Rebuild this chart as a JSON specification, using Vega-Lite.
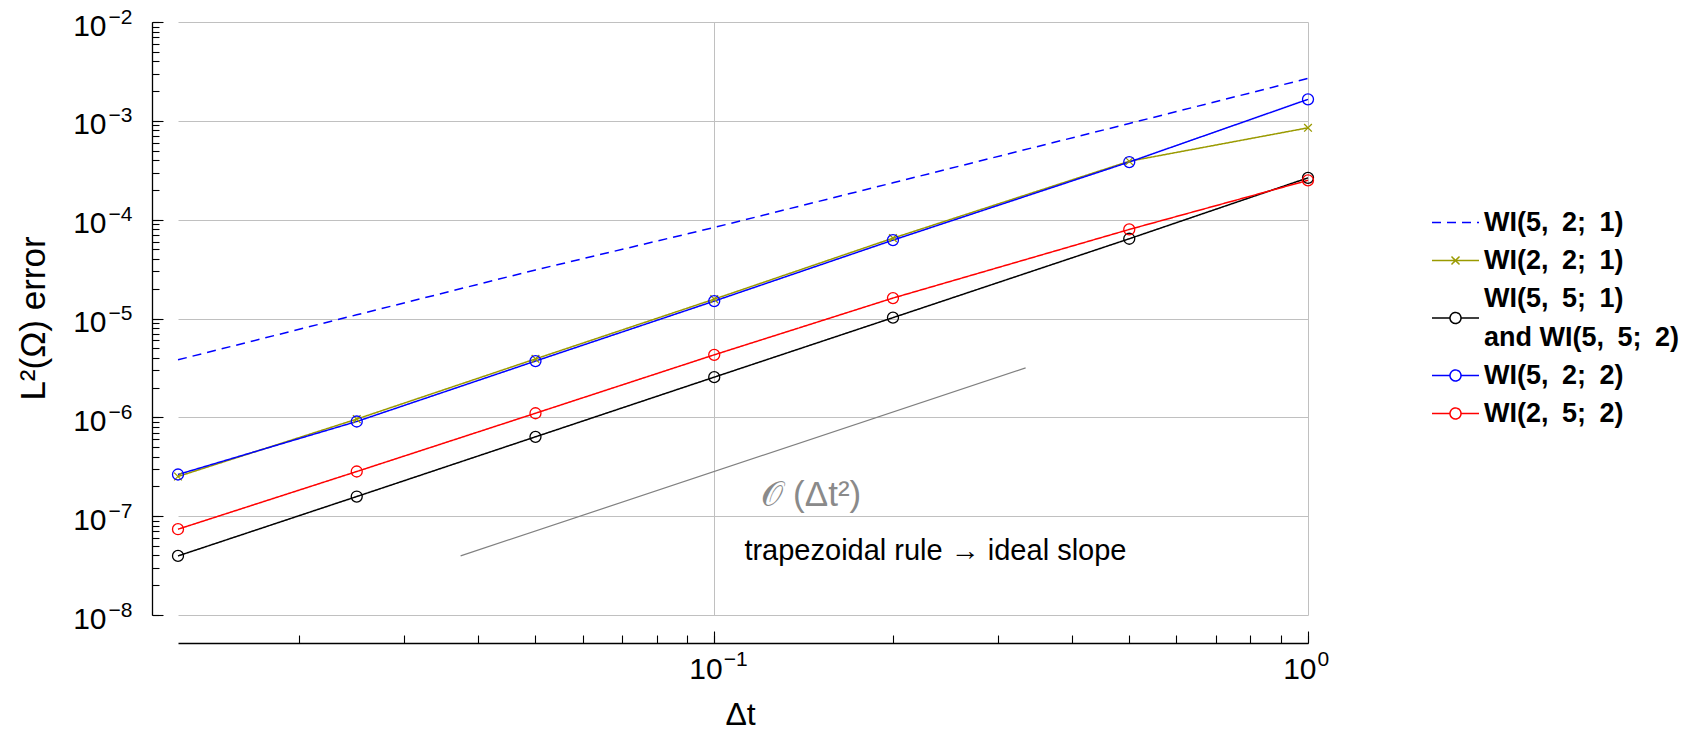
{
  "$schema": "https://vega.github.io/schema/vega-lite/v6.json",
  "width": 1130,
  "height": 593,
  "autosize": {"type": "none"},
  "padding": {"left": 178, "top": 22, "right": 381, "bottom": 116},
  "background": "white",
  "config": {"view": {"stroke": null}, "font": "Liberation Sans"},
  "resolve": {"axis": {"x": "independent", "y": "independent"}},
  "datasets": {
    "errors": [
      {"series": "WI(5,2;1)", "dt": 0.0125, "err": 3.82e-6},
      {"series": "WI(5,2;1)", "dt": 0.025, "err": 1.09e-5},
      {"series": "WI(5,2;1)", "dt": 0.05, "err": 3.1e-5},
      {"series": "WI(5,2;1)", "dt": 0.1, "err": 8.34e-5},
      {"series": "WI(5,2;1)", "dt": 0.2, "err": 2.36e-4},
      {"series": "WI(5,2;1)", "dt": 0.5, "err": 9.4e-4},
      {"series": "WI(5,2;1)", "dt": 1, "err": 2.69e-3},
      {"series": "WI(2,2;1)", "dt": 0.0125, "err": 2.52e-7},
      {"series": "WI(2,2;1)", "dt": 0.025, "err": 9.6e-7},
      {"series": "WI(2,2;1)", "dt": 0.05, "err": 3.9e-6},
      {"series": "WI(2,2;1)", "dt": 0.1, "err": 1.57e-5},
      {"series": "WI(2,2;1)", "dt": 0.2, "err": 6.5e-5},
      {"series": "WI(2,2;1)", "dt": 0.5, "err": 3.9e-4},
      {"series": "WI(2,2;1)", "dt": 1, "err": 8.5e-4},
      {"series": "WI(5,5;1)", "dt": 0.0125, "err": 3.96e-8},
      {"series": "WI(5,5;1)", "dt": 0.025, "err": 1.58e-7},
      {"series": "WI(5,5;1)", "dt": 0.05, "err": 6.35e-7},
      {"series": "WI(5,5;1)", "dt": 0.1, "err": 2.55e-6},
      {"series": "WI(5,5;1)", "dt": 0.2, "err": 1.02e-5},
      {"series": "WI(5,5;1)", "dt": 0.5, "err": 6.41e-5},
      {"series": "WI(5,5;1)", "dt": 1, "err": 2.65e-4},
      {"series": "WI(5,2;2)", "dt": 0.0125, "err": 2.64e-7},
      {"series": "WI(5,2;2)", "dt": 0.025, "err": 9.08e-7},
      {"series": "WI(5,2;2)", "dt": 0.05, "err": 3.71e-6},
      {"series": "WI(5,2;2)", "dt": 0.1, "err": 1.5e-5},
      {"series": "WI(5,2;2)", "dt": 0.2, "err": 6.21e-5},
      {"series": "WI(5,2;2)", "dt": 0.5, "err": 3.83e-4},
      {"series": "WI(5,2;2)", "dt": 1, "err": 1.65e-3},
      {"series": "WI(2,5;2)", "dt": 0.0125, "err": 7.38e-8},
      {"series": "WI(2,5;2)", "dt": 0.025, "err": 2.83e-7},
      {"series": "WI(2,5;2)", "dt": 0.05, "err": 1.1e-6},
      {"series": "WI(2,5;2)", "dt": 0.1, "err": 4.29e-6},
      {"series": "WI(2,5;2)", "dt": 0.2, "err": 1.61e-5},
      {"series": "WI(2,5;2)", "dt": 0.5, "err": 7.96e-5},
      {"series": "WI(2,5;2)", "dt": 1, "err": 2.5e-4}
    ],
    "slope": [
      {"dt": 0.0374, "err": 3.96e-8},
      {"dt": 0.3345, "err": 3.17e-6}
    ],
    "notes": [
      {"kind": "order", "dt": 0.1457, "err": 1.64e-7, "label": "𝒪 (Δt²)"},
      {"kind": "rule", "dt": 0.2358, "err": 4.45e-8, "label": "trapezoidal rule → ideal slope"}
    ]
  },
  "layer": [
    {
      "data": {"name": "errors"},
      "mark": {"type": "line", "strokeWidth": 1.5},
      "encoding": {
        "x": {
          "field": "dt", "type": "quantitative",
          "scale": {"type": "log", "domain": [0.0125, 1], "nice": false, "zero": false},
          "axis": {
            "orient": "bottom",
            "title": "Δt", "titleFont": "Liberation Sans", "titleFontSize": 32, "titleFontWeight": "normal", "titleColor": "black",
            "titleX": 562, "titleY": 81, "titleAlign": "center", "titleBaseline": "alphabetic", "titleAngle": 0,
            "values": [0.1, 1],
            "offset": 28, "ticks": true, "tickSize": -12, "domainColor": "black", "domainWidth": 1.3, "tickColor": "black", "tickWidth": 1.1,
            "labelExpr": "'10'",
            "labelFont": "Liberation Sans", "labelFontSize": 30, "labelColor": "black", "labelPadding": 47, "labelBaseline": "alphabetic", "labelAlign": "right", "labelOffset": 8,
            "labelOverlap": false, "labelFlush": false, "labelBound": false,
            "grid": true, "gridColor": "#c0c0c0", "gridWidth": 1
          }
        },
        "y": {
          "field": "err", "type": "quantitative",
          "scale": {"type": "log", "domain": [1e-8, 1e-2], "nice": false, "zero": false},
          "axis": {
            "orient": "left",
            "title": "L²(Ω) error", "titleFont": "Liberation Sans", "titleFontSize": 35, "titleFontWeight": "normal", "titleColor": "black",
            "titleX": -119, "titleY": 296, "titleAlign": "center", "titleBaseline": "middle", "titleAngle": 270,
            "values": [1e-8, 1e-7, 1e-6, 1e-5, 1e-4, 1e-3, 1e-2],
            "offset": 26, "ticks": true, "tickSize": -11, "domainColor": "black", "domainWidth": 1.3, "tickColor": "black", "tickWidth": 1.1,
            "labelExpr": "'10'",
            "labelFont": "Liberation Sans", "labelFontSize": 30, "labelColor": "black", "labelPadding": 57, "labelBaseline": "alphabetic", "labelAlign": "right", "labelOffset": 13,
            "labelOverlap": false, "labelFlush": false, "labelBound": false,
            "grid": true, "gridColor": "#c0c0c0", "gridWidth": 1
          }
        },
        "color": {
          "field": "series", "type": "nominal",
          "scale": {"domain": ["WI(5,2;1)", "WI(2,2;1)", "WI(5,5;1)", "WI(5,2;2)", "WI(2,5;2)"], "range": ["#0000ff", "#9a9a00", "#000000", "#0000ff", "#ff0000"]},
          "legend": {
            "orient": "none", "legendX": 1240, "legendY": 187, "direction": "vertical", "title": null, "padding": 0,
            "symbolSize": 400, "symbolStrokeWidth": 1.5, "symbolOffset": 24,
            "labelFont": "Liberation Sans", "labelFontSize": 27, "labelFontWeight": "bold", "labelColor": "black", "labelOffset": 15, "labelLimit": 400,
            "rowPadding": 10,
            "labelExpr": "datum.value == 'WI(5,5;1)' ? ['WI(5,\u20025;\u20021)', 'and WI(5,\u20025;\u20022)'] : replace(replace(datum.value, ',', ',\u2002'), ';', ';\u2002')",
            "encode": {
              "symbols": {"update": {
                "shape": {"signal": "datum.value == 'WI(5,2;1)' ? 'M-2.35,0L2.35,0' : datum.value == 'WI(2,2;1)' ? 'M-2.35,0L2.35,0M-0.4,-0.4L0.4,0.4M-0.4,0.4L0.4,-0.4' : datum.value == 'WI(5,5;1)' ? 'M-2.35,1.95L-0.55,1.95M0.55,1.95A0.55,0.55 0 1,1 -0.55,1.95A0.55,0.55 0 1,1 0.55,1.95M0.55,1.95L2.35,1.95' : 'M-2.35,0L-0.55,0M0.55,0A0.55,0.55 0 1,1 -0.55,0A0.55,0.55 0 1,1 0.55,0M0.55,0L2.35,0'"},
                "strokeDash": {"signal": "datum.value == 'WI(5,2;1)' ? [8, 6] : []"},
                "fill": {"value": "transparent"}
              }},
              "labels": {"update": {"lineHeight": {"value": 39}}}
            }
          }
        },
        "strokeDash": {
          "field": "series", "type": "nominal",
          "scale": {"domain": ["WI(5,2;1)", "WI(2,2;1)", "WI(5,5;1)", "WI(5,2;2)", "WI(2,5;2)"], "range": [[9, 6], [1, 0], [1, 0], [1, 0], [1, 0]]},
          "legend": null
        }
      }
    },
    {
      "data": {"name": "errors"},
      "transform": [{"filter": "datum.series != 'WI(5,2;1)'"}],
      "mark": {"type": "point", "filled": false, "size": 121, "strokeWidth": 1.3, "opacity": 1},
      "encoding": {
        "x": {
          "field": "dt", "type": "quantitative",
          "axis": {
            "orient": "bottom", "title": null, "domain": false, "grid": false,
            "values": [0.02, 0.03, 0.04, 0.05, 0.06, 0.07, 0.08, 0.09, 0.1, 0.2, 0.3, 0.4, 0.5, 0.6, 0.7, 0.8, 0.9, 1],
            "offset": 28, "ticks": true, "tickSize": -8, "tickColor": "black", "tickWidth": 1.1,
            "labelExpr": "abs(log(datum.value)/LN10 - round(log(datum.value)/LN10)) < 0.001 ? (round(log(datum.value)/LN10) < 0 ? '−' : '') + abs(round(log(datum.value)/LN10)) : ''",
            "labelFont": "Liberation Sans", "labelFontSize": 21, "labelColor": "black", "labelPadding": 30.5, "labelBaseline": "alphabetic", "labelAlign": "left", "labelOffset": 9,
            "labelOverlap": false, "labelFlush": false, "labelBound": false
          }
        },
        "y": {
          "field": "err", "type": "quantitative",
          "axis": {
            "orient": "left", "title": null, "domain": false, "grid": false,
            "values": [1e-8, 2e-8, 3e-8, 4e-8, 5e-8, 6e-8, 7e-8, 8e-8, 9e-8, 1e-7, 2e-7, 3e-7, 4e-7, 5e-7, 6e-7, 7e-7, 8e-7, 9e-7, 1e-6, 2e-6, 3e-6, 4e-6, 5e-6, 6e-6, 7e-6, 8e-6, 9e-6, 1e-5, 2e-5, 3e-5, 4e-5, 5e-5, 6e-5, 7e-5, 8e-5, 9e-5, 1e-4, 2e-4, 3e-4, 4e-4, 5e-4, 6e-4, 7e-4, 8e-4, 9e-4, 1e-3, 2e-3, 3e-3, 4e-3, 5e-3, 6e-3, 7e-3, 8e-3, 9e-3, 1e-2],
            "offset": 26, "ticks": true, "tickSize": -7, "tickColor": "black", "tickWidth": 1.1,
            "labelExpr": "abs(log(datum.value)/LN10 - round(log(datum.value)/LN10)) < 0.001 ? (round(log(datum.value)/LN10) < 0 ? '−' : '') + abs(round(log(datum.value)/LN10)) : ''",
            "labelFont": "Liberation Sans", "labelFontSize": 21, "labelColor": "black", "labelPadding": 51, "labelBaseline": "alphabetic", "labelAlign": "left", "labelOffset": 1,
            "labelOverlap": false, "labelFlush": false, "labelBound": false
          }
        },
        "color": {"field": "series", "type": "nominal"},
        "shape": {
          "field": "series", "type": "nominal",
          "scale": {"domain": ["WI(2,2;1)", "WI(5,5;1)", "WI(5,2;2)", "WI(2,5;2)"], "range": ["M-0.7,-0.7L0.7,0.7M-0.7,0.7L0.7,-0.7", "circle", "circle", "circle"]},
          "legend": null
        }
      }
    },
    {
      "data": {"name": "slope"},
      "mark": {"type": "line", "color": "#808080", "strokeWidth": 1.2},
      "encoding": {
        "x": {"field": "dt", "type": "quantitative", "axis": null},
        "y": {"field": "err", "type": "quantitative", "axis": null}
      }
    },
    {
      "data": {"name": "notes"},
      "transform": [{"filter": "datum.kind == 'order'"}],
      "mark": {"type": "text", "font": "Liberation Sans", "fontSize": 35, "color": "#8a8a8a", "align": "center", "baseline": "middle"},
      "encoding": {
        "x": {"field": "dt", "type": "quantitative", "axis": null},
        "y": {"field": "err", "type": "quantitative", "axis": null},
        "text": {"field": "label"}
      }
    },
    {
      "data": {"name": "notes"},
      "transform": [{"filter": "datum.kind == 'rule'"}],
      "mark": {"type": "text", "font": "Liberation Sans", "fontSize": 29, "color": "black", "align": "center", "baseline": "middle"},
      "encoding": {
        "x": {"field": "dt", "type": "quantitative", "axis": null},
        "y": {"field": "err", "type": "quantitative", "axis": null},
        "text": {"field": "label"}
      }
    }
  ]
}
